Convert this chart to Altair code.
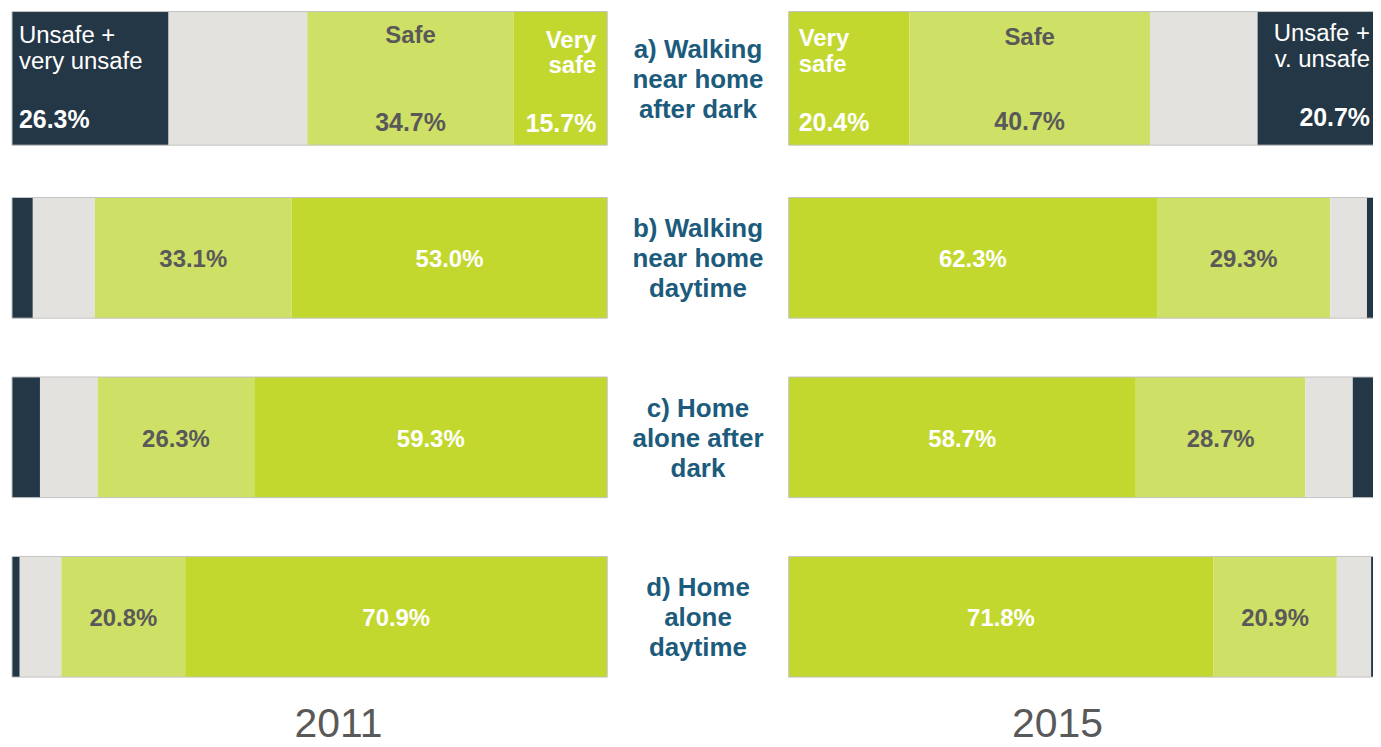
import altair as alt
import pandas as pd

FONT = "Liberation Sans"

rows = ["a", "b", "c", "d"]
row_labels = [
    "a) Walking\nnear home\nafter dark",
    "b) Walking\nnear home\ndaytime",
    "c) Home\nalone after\ndark",
    "d) Home\nalone\ndaytime",
]
categories = ["Unsafe + very unsafe", "Neither", "Safe", "Very safe"]
cat_colors = ["#243746", "#e4e2de", "#cfe066", "#c2d82e"]

# 2011 (left panel), stacked left to right: unsafe, neither, safe, very safe
unsafe_2011 = [26.3, 3.5, 4.7, 1.3]
neither_2011 = [23.3, 10.4, 9.7, 7.0]
safe_2011 = [34.7, 33.1, 26.3, 20.8]
very_2011 = [15.7, 53.0, 59.3, 70.9]

# 2015 (right panel), stacked left to right: very safe, safe, neither, unsafe
very_2015 = [20.4, 62.3, 58.7, 71.8]
safe_2015 = [40.7, 29.3, 28.7, 20.9]
neither_2015 = [18.2, 6.2, 8.0, 5.8]
unsafe_2015 = [20.7, 2.2, 4.6, 1.5]

names_2011 = {"Unsafe + very unsafe": "Unsafe +\nvery unsafe", "Neither": "",
              "Safe": "Safe", "Very safe": "Very\nsafe"}
names_2015 = {"Unsafe + very unsafe": "Unsafe +\nv. unsafe", "Neither": "",
              "Safe": "Safe", "Very safe": "Very\nsafe"}


def segments(order, series, names):
    recs = []
    for i, r in enumerate(rows):
        cum = 0.0
        for cat, vals in zip(order, series):
            v = vals[i]
            recs.append({"row": r, "cat": cat, "value": v, "start": cum,
                         "end": cum + v, "mid": cum + v / 2,
                         "label": f"{v:.1f}%", "name": names[cat]})
            cum += v
    return pd.DataFrame(recs)


df11 = segments(["Unsafe + very unsafe", "Neither", "Safe", "Very safe"],
                [unsafe_2011, neither_2011, safe_2011, very_2011], names_2011)
df15 = segments(["Very safe", "Safe", "Neither", "Unsafe + very unsafe"],
                [very_2015, safe_2015, neither_2015, unsafe_2015], names_2015)

yscale = alt.Scale(type="band", domain=rows, paddingInner=0.3278, paddingOuter=0.05)
PANEL_H = 679
GRAY_TXT = "#595959"


def panel(df, year, title_x):
    xs = alt.Scale(domain=[0, 100], nice=False, zero=True)
    xax = alt.Axis(title=year, labels=False, ticks=False, domain=False, grid=False,
                   titleFontSize=41, titleFont=FONT, titleFontWeight="normal",
                   titleColor=GRAY_TXT, titleX=title_x, titleY=51,
                   titleAlign="center", titleBaseline="alphabetic")
    Y = alt.Y("row:N", scale=yscale, axis=None)

    def X(f):
        return alt.X(f, type="quantitative", scale=xs, axis=xax)

    base = alt.Chart(df)
    color = alt.Color("cat:N", scale=alt.Scale(domain=categories, range=cat_colors),
                      legend=None)
    bars_a = base.transform_filter("datum.row == 'a'").mark_bar(size=134).encode(
        x=X("start"), x2="end", y=Y, color=color)
    bars_o = base.transform_filter("datum.row != 'a'").mark_bar(size=121).encode(
        x=X("start"), x2="end", y=Y, color=color)

    tot = base.transform_aggregate(x0="min(start)", x1="max(end)", groupby=["row"])
    out_a = tot.transform_filter("datum.row == 'a'").mark_bar(
        size=134, fill="#ffffff", fillOpacity=0, stroke="#c4c4c4", strokeWidth=1
    ).encode(x=X("x0"), x2="x1", y=Y)
    out_o = tot.transform_filter("datum.row != 'a'").mark_bar(
        size=121, fill="#ffffff", fillOpacity=0, stroke="#c4c4c4", strokeWidth=1
    ).encode(x=X("x0"), x2="x1", y=Y)

    def txt(filt, xf, field, **kw):
        props = dict(font=FONT, fontSize=24, fontWeight="bold", baseline="middle",
                     lineBreak="\n", lineHeight=25)
        props.update(kw)
        return base.transform_filter(filt).mark_text(**props).encode(
            x=X(xf), y=Y, text=f"{field}:N")

    vals_safe = txt("datum.row != 'a' && datum.cat == 'Safe'", "mid", "label",
                    color=GRAY_TXT, dy=2.5)
    vals_very = txt("datum.row != 'a' && datum.cat == 'Very safe'", "mid", "label",
                    color="#ffffff", dy=2.5)
    return [bars_a, bars_o, out_a, out_o, vals_safe, vals_very], txt


A = "datum.row == 'a' && datum.cat == "

# ---- left panel (2011)
layers11, txt11 = panel(df11, "2011", 327)
layers11 += [
    txt11(A + "'Unsafe + very unsafe'", "start", "name", align="left", dx=7, dy=-42,
          fontWeight="normal", color="#ffffff", lineHeight=26),
    txt11(A + "'Unsafe + very unsafe'", "start", "label", align="left", dx=7, dy=41.5,
          color="#ffffff", fontSize=25),
    txt11(A + "'Safe'", "mid", "name", align="center", dy=-42, color=GRAY_TXT),
    txt11(A + "'Safe'", "mid", "label", align="center", dy=45, color=GRAY_TXT,
          fontSize=25),
    txt11(A + "'Very safe'", "end", "name", align="right", dx=-11, dy=-37,
          color="#ffffff"),
    txt11(A + "'Very safe'", "end", "label", align="right", dx=-11, dy=46,
          color="#ffffff", fontSize=25),
]
left = alt.layer(*layers11).properties(width=597, height=PANEL_H)

# ---- right panel (2015)
layers15, txt15 = panel(df15, "2015", 269)
layers15 += [
    txt15(A + "'Very safe'", "start", "name", align="left", dx=10, dy=-39,
          color="#ffffff", lineHeight=26),
    txt15(A + "'Very safe'", "start", "label", align="left", dx=10, dy=45,
          color="#ffffff", fontSize=25),
    txt15(A + "'Safe'", "mid", "name", align="center", dy=-40.5, color=GRAY_TXT),
    txt15(A + "'Safe'", "mid", "label", align="center", dy=44, color=GRAY_TXT,
          fontSize=25),
    txt15(A + "'Unsafe + very unsafe'", "end", "name", align="right", dx=-10, dy=-44.5,
          fontWeight="normal", color="#ffffff", lineHeight=26),
    txt15(A + "'Unsafe + very unsafe'", "end", "label", align="right", dx=-10, dy=39.5,
          color="#ffffff", fontSize=25),
]
right = alt.layer(*layers15).properties(width=593, height=PANEL_H)

# ---- middle labels
mid_df = pd.DataFrame({"row": rows, "label": row_labels})
middle = alt.Chart(mid_df).mark_text(
    font=FONT, fontSize=26, fontWeight="bold", color="#1c5b7c", lineBreak="\n",
    lineHeight=30, baseline="middle", align="center", dy=-28.5
).encode(y=alt.Y("row:N", scale=yscale, axis=None), text="label:N").properties(
    width=180, height=PANEL_H)

chart = alt.hconcat(left, middle, right, spacing=0).properties(
    padding={"left": 3, "top": 0, "right": -8, "bottom": -8}
).configure_view(strokeWidth=0)

chart.save("out.html", embed_options={"renderer": "svg", "actions": False})
